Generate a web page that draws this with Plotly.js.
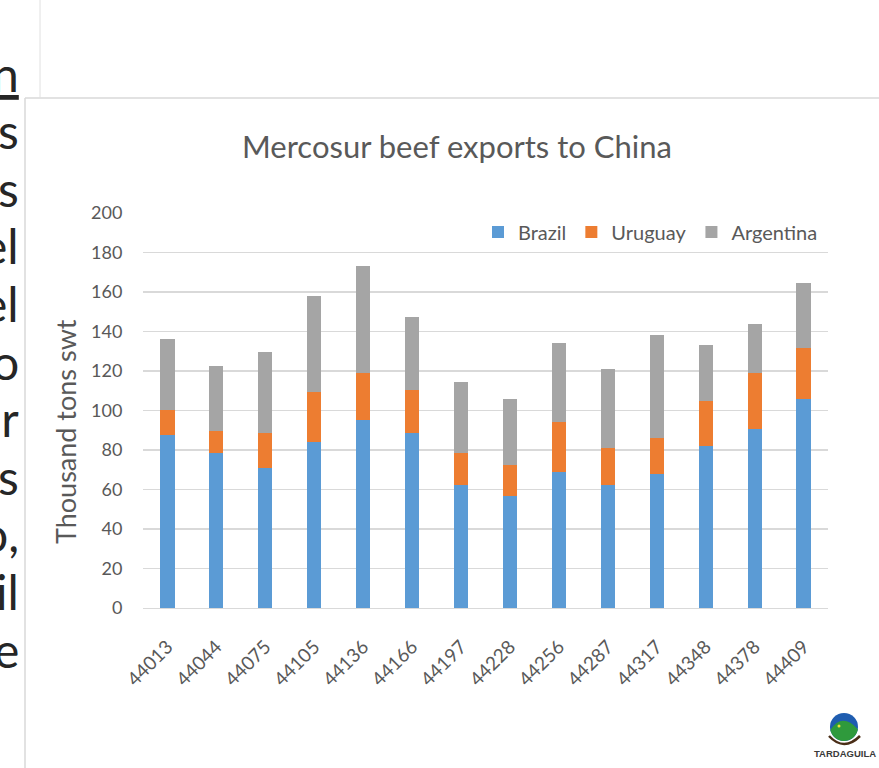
<!DOCTYPE html>
<html>
<head>
<meta charset="utf-8">
<script src="https://cdn.plot.ly/plotly-3.0.1.min.js"></script>
<style>html,body{margin:0;padding:0;background:#fff;}#chart{width:879px;height:768px;}</style>
</head>
<body>
<div id="chart"></div>
<script>
// ---- data ----
var months = ['44013','44044','44075','44105','44136','44166','44197','44228','44256','44287','44317','44348','44378','44409'];
var brazil    = [87.4, 78.5, 71.0, 84.2, 95.0, 88.4, 62.3, 56.9, 68.9, 62.3, 67.8, 81.8, 90.6, 105.8];
var uruguay   = [13.0, 11.1, 17.4, 25.0, 24.0, 21.8, 16.3, 15.3, 25.1, 18.5, 18.4, 23.0, 28.4, 26.1];
var argentina = [36.0, 32.7, 41.4, 48.8, 54.3, 36.9, 35.8, 33.6, 40.0, 40.2, 52.2, 28.2, 25.0, 32.7];
var yTicks = [0, 20, 40, 60, 80, 100, 120, 140, 160, 180, 200];
var sideText = ['<u>n</u>', 's', 's', 'el', 'el', 'o', 'or', 's', 'o,', 'il', 'e'];

// ---- geometry helpers (pixel -> paper) ----
var L = 143, R = 828, T = 213, B = 608, W = 879, H = 768;
function px(x) { return (x - L) / (R - L); }
function py(y) { return (B - y) / (B - T); }

var grey = '#595959';
var traces = [
  {type: 'bar', name: 'Brazil', x: months, y: brazil, marker: {color: '#5b9bd5'}},
  {type: 'bar', name: 'Uruguay', x: months, y: uruguay, marker: {color: '#ed7d31'}},
  {type: 'bar', name: 'Argentina', x: months, y: argentina, marker: {color: '#a5a5a5'}}
];

var annotations = [
  {text: 'Thousand tons swt', xref: 'paper', yref: 'paper', x: px(65), y: py(432),
   textangle: -90, showarrow: false, xanchor: 'center', yanchor: 'middle',
   font: {family: 'Lato', size: 27, color: grey}},
  {text: '<b>TARDAGUILA</b>', xref: 'paper', yref: 'paper', x: px(845), y: py(753),
   showarrow: false, xanchor: 'center', yanchor: 'middle',
   font: {family: 'Liberation Sans', size: 9.5, color: '#3a3a3a'}}
];
for (var i = 0; i < sideText.length; i++) {
  annotations.push({text: sideText[i], xref: 'paper', yref: 'paper',
    x: px(21), y: py(73 + i * 57.6), showarrow: false, xanchor: 'right', yanchor: 'middle',
    font: {family: 'Lato', size: 48, color: '#262626'}});
}

// logo decoration path helpers
function arcPath(cx, cy, r, a0, a1, n) {
  var s = '';
  for (var k = 0; k <= n; k++) {
    var a = a0 + (a1 - a0) * k / n;
    s += ' L' + px(cx + r * Math.cos(a)).toFixed(5) + ',' + py(cy + r * Math.sin(a)).toFixed(5);
  }
  return s;
}
// green hill: from left point on circle, hill curve, then along bottom arc back
var lc = 844, lcy = 727, lr = 14;
var hillStart = Math.PI * 0.93, hillEnd = Math.PI * 0.05;
var hx0 = lc + lr * Math.cos(hillStart), hy0 = lcy + lr * Math.sin(hillStart);
var hx1 = lc + lr * Math.cos(hillEnd), hy1 = lcy + lr * Math.sin(hillEnd);
var greenPath = 'M' + px(hx0) + ',' + py(hy0) +
  ' Q' + px(842) + ',' + py(712) + ' ' + px(hx1) + ',' + py(hy1) +
  arcPath(lc, lcy, lr, hillEnd, hillStart, 24) + ' Z';
var swoosh = 'M' + px(829) + ',' + py(736) + ' Q' + px(844) + ',' + py(752) + ' ' + px(860) + ',' + py(736);

var shapes = [
  {type: 'line', xref: 'paper', yref: 'paper', x0: px(25), x1: px(25), y0: py(98), y1: py(H + 5), line: {color: '#d9d9d9', width: 1.5}},
  {type: 'line', xref: 'paper', yref: 'paper', x0: px(25), x1: px(W + 5), y0: py(98), y1: py(98), line: {color: '#d9d9d9', width: 1.5}},
  {type: 'line', xref: 'paper', yref: 'paper', x0: px(40), x1: px(40), y0: py(-5), y1: py(98), line: {color: '#e0e0e0', width: 1}},
  // logo
  {type: 'circle', xref: 'paper', yref: 'paper', x0: px(lc - lr), x1: px(lc + lr), y0: py(lcy + lr), y1: py(lcy - lr), fillcolor: '#1f5db0', line: {width: 0}},
  {type: 'path', xref: 'paper', yref: 'paper', path: greenPath, fillcolor: '#2f9a3c', line: {width: 0}},
  {type: 'path', xref: 'paper', yref: 'paper', path: swoosh, line: {color: '#4a2e17', width: 2.5}},
  {type: 'circle', xref: 'paper', yref: 'paper', x0: px(837.5), x1: px(840.5), y0: py(727.5), y1: py(724.5), fillcolor: '#f2e33a', line: {width: 0}}
];

var layout = {
  width: W, height: H,
  margin: {l: L, r: W - R, t: T, b: H - B, pad: 0},
  paper_bgcolor: '#ffffff', plot_bgcolor: '#ffffff',
  barmode: 'stack', bargap: 0.71,
  showlegend: true,
  title: {text: 'Mercosur beef exports to China', x: 457 / W, xanchor: 'center',
          y: 1 - 147 / H, yanchor: 'middle', yref: 'container',
          font: {family: 'Lato', size: 31, color: grey}},
  legend: {orientation: 'h', xref: 'paper', yref: 'paper', x: px(823), xanchor: 'right',
           y: py(232), yanchor: 'middle', bgcolor: 'rgba(0,0,0,0)', itemwidth: 30,
           font: {family: 'Lato', size: 20, color: grey}, traceorder: 'normal'},
  xaxis: {type: 'category', showgrid: false, zeroline: false, showline: true,
          linecolor: '#d9d9d9', linewidth: 1.3, tickangle: -45,
          ticks: 'outside', ticklen: 19, tickcolor: 'rgba(0,0,0,0)',
          tickfont: {family: 'Lato', size: 19, color: grey}, fixedrange: true},
  yaxis: {range: [0, 200], tickvals: yTicks, ticktext: yTicks.map(String),
          showgrid: true, gridcolor: '#d9d9d9', gridwidth: 1.3, zeroline: false,
          showline: false, ticks: 'outside', ticklen: 16, tickcolor: 'rgba(0,0,0,0)',
          tickfont: {family: 'Lato', size: 18, color: grey}, fixedrange: true},
  annotations: annotations,
  shapes: shapes,
  hovermode: false
};

Plotly.newPlot('chart', traces, layout, {displayModeBar: false, staticPlot: true});
</script>
</body>
</html>
